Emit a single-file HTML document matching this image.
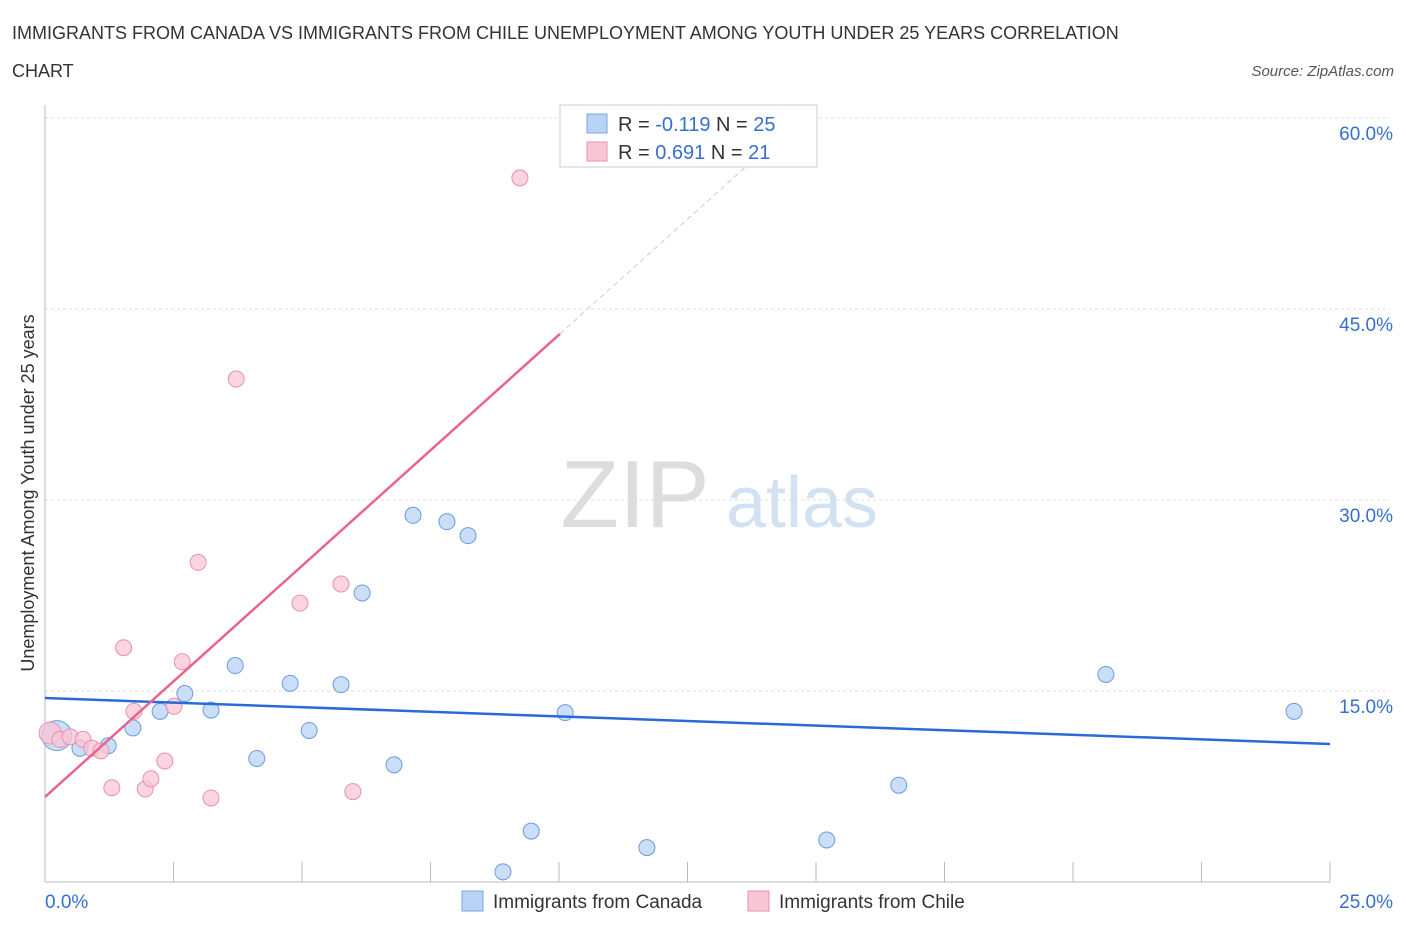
<!DOCTYPE html>
<html><head><meta charset="utf-8"><style>
body{margin:0;background:#fff;font-family:"Liberation Sans",sans-serif;}
svg text{font-family:"Liberation Sans",sans-serif;}
</style></head><body>
<svg id="chart" width="1406" height="930" xmlns="http://www.w3.org/2000/svg">
<text x="12" y="39" font-size="18" fill="#333">IMMIGRANTS FROM CANADA VS IMMIGRANTS FROM CHILE UNEMPLOYMENT AMONG YOUTH UNDER 25 YEARS CORRELATION</text>
<text x="12" y="77" font-size="18" fill="#333">CHART</text>
<text x="1394" y="76" font-size="15" fill="#555" text-anchor="end" font-style="italic">Source: ZipAtlas.com</text>
<g>
<text x="635" y="527" font-size="96" fill="#ddd" font-family="Liberation Serif" text-anchor="middle">ZIP</text>
<text x="802" y="527" font-size="72" fill="#d3e2f3" text-anchor="middle">atlas</text>
</g>
<g id="grid"></g>
<g id="axes"></g>
<g id="marks"></g>
<text transform="translate(34,493) rotate(-90)" font-size="18" fill="#333" text-anchor="middle">Unemployment Among Youth under 25 years</text>
<g>
<rect x="560" y="105" width="257" height="62" fill="#fff" stroke="#ccc"/>
<rect x="587" y="114" width="20" height="19" fill="#b8d3f5" stroke="#7aa6e0"/>
<rect x="587" y="142" width="20" height="19" fill="#f9c6d6" stroke="#e890ad"/>
<text x="618" y="131" font-size="20" fill="#333">R = <tspan fill="#3570d0">-0.119</tspan>   N = <tspan fill="#3570d0">25</tspan></text>
<text x="618" y="159" font-size="20" fill="#333">R =  <tspan fill="#3570d0">0.691</tspan>   N =  <tspan fill="#3570d0">21</tspan></text>
</g>
<g>
<rect x="462" y="891" width="21" height="20" fill="#b8d3f5" stroke="#7aa6e0"/>
<text x="493" y="908" font-size="19" fill="#333">Immigrants from Canada</text>
<rect x="748" y="891" width="21" height="20" fill="#f9c6d6" stroke="#e890ad"/>
<text x="779" y="908" font-size="19" fill="#333">Immigrants from Chile</text>
</g>
</svg>
<script>
const blueX=[0.23,0.68,1.23,1.71,2.24,2.72,3.23,3.70,4.12,4.77,5.14,5.76,6.17,6.79,7.16,7.82,8.23,8.91,9.46,10.12,11.71,15.21,16.61,20.64,24.3];
const blueY=[11.5,10.5,10.7,12.1,13.4,14.8,13.5,17.0,9.7,15.6,11.9,15.5,22.7,9.2,28.8,28.3,27.2,0.8,4.0,13.3,2.7,3.3,7.6,16.3,13.4];
const pinkX=[0.1,0.29,0.49,0.74,0.91,1.09,1.30,1.53,1.73,1.95,2.06,2.33,2.51,2.67,2.98,3.23,3.72,4.96,5.76,5.99,9.24];
const pinkY=[11.7,11.2,11.4,11.2,10.5,10.3,7.4,18.4,13.4,7.3,8.1,9.5,13.8,17.3,25.1,6.6,39.5,21.9,23.4,7.1,55.3];
const blueTrend=[14.45,10.84];
const pinkTrend=[6.68,3.63];
const yTicks=[15,30,45,60];
const yTickLabels=["15.0%","30.0%","45.0%","60.0%"];
const NS="http://www.w3.org/2000/svg";
const X=v=>45+v*51.4, Y=v=>882-v*12.733;
function mk(p,t,a){const e=document.createElementNS(NS,t);for(const k in a)e.setAttribute(k,a[k]);p.appendChild(e);return e;}
const grid=document.getElementById('grid'),axes=document.getElementById('axes'),marks=document.getElementById('marks');
yTicks.forEach((t,i)=>{
 const l=mk(grid,'line',{x1:45,x2:1390,y1:Y(t),y2:Y(t),stroke:'#ddd','stroke-dasharray':'3,3'});
 
 
 const tx=mk(axes,'text',{x:1393,y:Y(t)+22,'font-size':19,fill:'#3570d0','text-anchor':'end'});
 tx.textContent=yTickLabels[i];
 
 
});
mk(axes,'line',{x1:45,x2:45,y1:105,y2:882,stroke:'#bbb'});
mk(axes,'line',{x1:45,x2:1330,y1:882,y2:882,stroke:'#bbb'});
for(let i=0;i<=10;i++){const l=mk(axes,'line',{x1:X(i*2.5),x2:X(i*2.5),y1:862,y2:882,stroke:'#bbb'});
 }
let t0=mk(axes,'text',{x:45,y:908,'font-size':19,fill:'#3570d0'});t0.textContent='0.0%';

let t1=mk(axes,'text',{x:1393,y:908,'font-size':19,fill:'#3570d0','text-anchor':'end'});t1.textContent='25.0%';

blueX.forEach((x,i)=>{const c=mk(marks,'circle',{cx:X(x),cy:Y(blueY[i]),r:i==0?15:8,fill:'#b8d3f5','fill-opacity':0.75,stroke:'#6c9be0','stroke-width':1});
 });
pinkX.forEach((x,i)=>{const c=mk(marks,'circle',{cx:X(x),cy:Y(pinkY[i]),r:i==0?11:8,fill:'#f9c6d6','fill-opacity':0.75,stroke:'#e890ad','stroke-width':1});
 });
const bl=mk(marks,'line',{x1:X(0),y1:Y(blueTrend[0]),x2:X(25),y2:Y(blueTrend[1]),stroke:'#2a6ad6','stroke-width':2.5});

const pe=10.02,pd=14;
const pl=mk(marks,'line',{x1:X(0),y1:Y(pinkTrend[0]),x2:X(pe),y2:Y(pinkTrend[0]+pinkTrend[1]*pe),stroke:'#e8648f','stroke-width':2.5});

const pdl=mk(marks,'line',{x1:X(pe),y1:Y(pinkTrend[0]+pinkTrend[1]*pe),x2:X(pd),y2:Y(pinkTrend[0]+pinkTrend[1]*pd),stroke:'#ccc','stroke-width':1,'stroke-dasharray':'5,4'});

</script>
</body></html>
